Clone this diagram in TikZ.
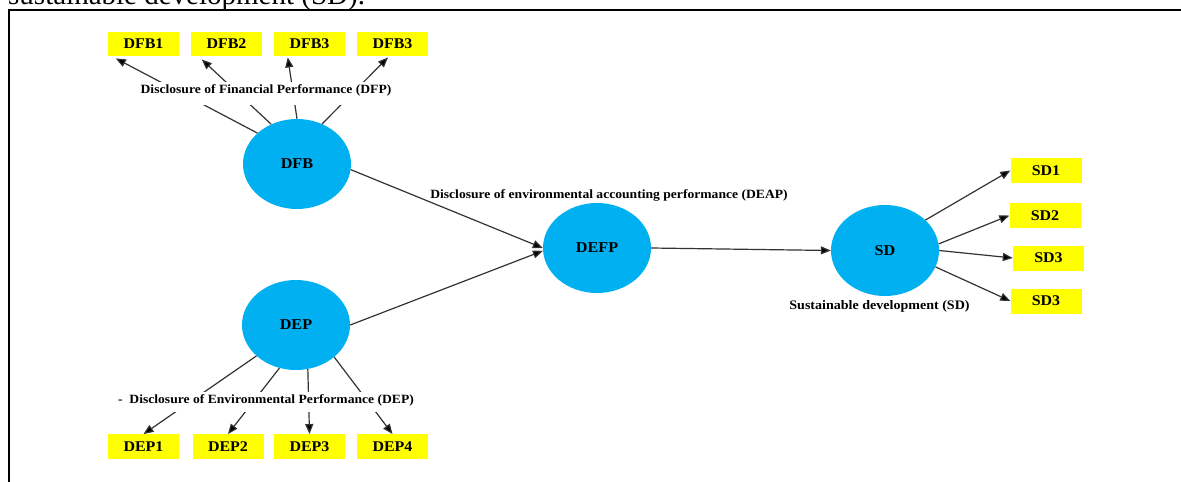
\documentclass[tikz,border=0pt]{standalone}
\usepackage{fontspec}
\setmainfont{Liberation Serif}
\newfontfamily\lblfont[FakeStretch=1.08]{Liberation Serif}
\usetikzlibrary{arrows.meta,calc,shapes.geometric}
\definecolor{cyanfill}{HTML}{00B0F0}
\definecolor{boxyellow}{HTML}{FFFF00}
\definecolor{linegray}{HTML}{333333}
\begin{document}
\begin{tikzpicture}[x=1pt,y=-1pt,
 latent/.style={ellipse, fill=cyanfill, minimum width=108pt, minimum height=90pt, inner sep=0pt,
   font=\lblfont\bfseries\fontsize{15}{15}\selectfont},
 indic/.style={fill=boxyellow, minimum width=71pt, minimum height=24.5pt, inner sep=0pt,
   font=\lblfont\bfseries\fontsize{14.8}{15}\selectfont},
 caption/.style={font=\lblfont\bfseries\fontsize{12.6}{13}\selectfont, inner ysep=0pt, inner xsep=2pt},
 conn/.style={draw=linegray, line width=1.2pt},
 arr/.style={conn, -{Triangle[length=10pt,width=8pt,fill=black]}},
]
\useasboundingbox (0,0) rectangle (1181,482);
\clip (0,0) rectangle (1181,482);
\fill[white] (0,0) rectangle (1181,482);

% partial text above the frame
\node[anchor=base west, inner sep=0pt, font=\fontsize{29}{30}\selectfont] (toptext) at (8,4) {sustainable development (SD).};

% frame
\draw[line width=2pt] (1181,10) -- (9,10) -- (9,482);

% latent variables
\node[latent] (dfb) at (297,164) {DFB};
\node[latent] (dep) at (296,325) {DEP};
\node[latent] (defp) at (597,248) {DEFP};
\node[latent, minimum height=91pt] (sd) at (885,250.5) {SD};

% indicators
\node[indic] (b1) at (143.5,44) {DFB1};
\node[indic] (b2) at (226.5,44) {DFB2};
\node[indic] (b3) at (309.5,44) {DFB3};
\node[indic] (b4) at (392.5,44) {DFB3};

\node[indic] (d1) at (143.5,446.5) {DEP1};
\node[indic] (d2) at (228,446.5) {DEP2};
\node[indic] (d3) at (309.5,446.5) {DEP3};
\node[indic] (d4) at (392.5,446.5) {DEP4};

\node[indic, minimum height=25pt] (s1) at (1046,170.5) {SD1};
\node[indic, minimum height=25pt] (s2) at (1045,215.5) {SD2};
\node[indic, minimum height=25pt] (s3) at (1048.5,258) {SD3};
\node[indic, minimum height=25pt] (s4) at (1046,301) {SD3};

% DFB indicators
\draw[arr] (dfb.142) -- ($(b1.south west)+(8,2)$);
\draw[arr] (dfb.123) -- ($(b2.south west)+(11,3)$);
\draw[arr] (dfb.90) -- ($(b3.south west)+(14,1)$);
\draw[arr] (dfb.58) -- ($(b4.south)+(-4.5,1)$);

% DEP indicators
\draw[arr] (dep.218) -- (d1.north);
\draw[arr] (dep.249) -- (d2.north);
\draw[arr] (dep.-75) -- (d3.north);
\draw[arr] (dep.-40) -- (d4.north);

% structural paths
\draw[arr] (dfb.-6) -- (defp.west);
\draw[arr] (dep.east) -- (defp.183);
\draw[arr] (defp.east) -- (sd.west);

% SD indicators
\draw[arr] (sd.37) -- (s1.west);
\draw[arr] (sd.7) -- (s2.west);
\draw[arr] (sd.0) -- (s3.west);
\draw[arr] (sd.-18) -- (s4.west);

% captions
\node[caption, fill=white, anchor=base, text height=11pt, text depth=12pt] (capdfp) at (266,93)
  {Disclosure of Financial Performance (DFP)};
\node[caption, fill=white, anchor=base, text height=11pt, text depth=9pt] (capdep) at (266,403)
  {-\ \ Disclosure of Environmental Performance (DEP)};
\node[caption, anchor=base] (capdeap) at (609,198)
  {Disclosure of environmental accounting performance (DEAP)};
\node[caption, anchor=base, font=\lblfont\bfseries\fontsize{13}{13}\selectfont] (capsd) at (879.5,309)
  {Sustainable development (SD)};
\end{tikzpicture}
\end{document}
